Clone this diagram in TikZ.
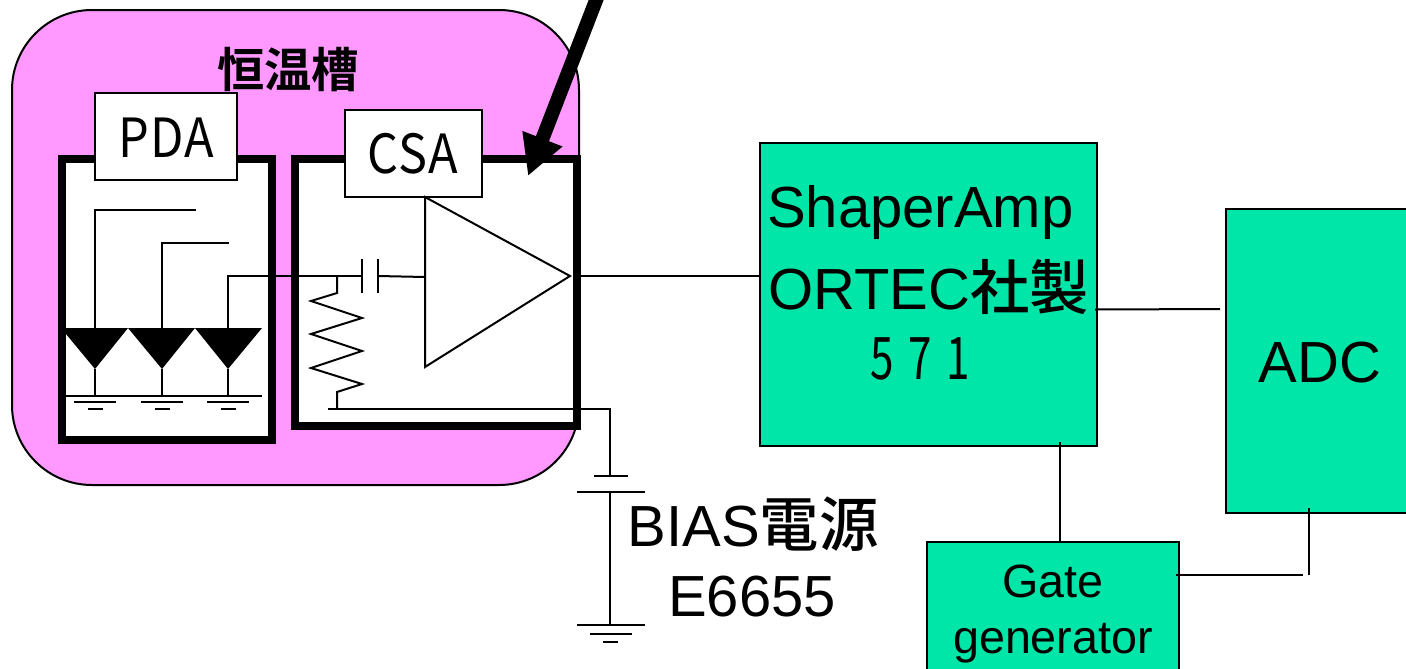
\documentclass[tikz,border=0pt]{standalone}
\usepackage{fontspec}
\setmainfont{Liberation Sans}
\newfontfamily\cjk{Noto Sans CJK JP Medium}
\newfontfamily\cjkb{Noto Sans CJK JP Bold}
\newfontfamily\nar[FakeStretch=0.9,LetterSpace=2]{Noto Sans CJK JP}
\newfontfamily\narnum[FakeStretch=0.72]{Noto Sans CJK JP}
\usetikzlibrary{arrows.meta}
\definecolor{modgreen}{RGB}{0,230,168}
\definecolor{bath}{RGB}{255,153,255}
\tikzset{
  wire/.style={draw=black,line width=1.5pt},
  thick box/.style={draw=black,line width=6pt,fill=white},
  label box/.style={draw=black,line width=1.5pt,fill=white},
  module/.style={draw=black,line width=1.8pt,fill=modgreen},
  big/.style={font=\fontsize{43.5}{50}\selectfont,inner sep=0pt,text=black,anchor=base},
  small/.style={font=\fontsize{35}{40}\selectfont,inner sep=0pt,anchor=base},
  narrow/.style={font=\nar\fontsize{40.5}{44}\selectfont,inner sep=0pt,anchor=base},
}
\newcommand{\kj}[1]{{\cjk\fontsize{44.5}{50}\selectfont #1}}
\begin{document}
\begin{tikzpicture}[x=0.75pt,y=-0.75pt]
\useasboundingbox (0,0) rectangle (1406,668);
\clip (0,0) rectangle (1406,668);
% thermostat
\draw[fill=bath,line width=1.5pt,rounded corners=60pt] (12,10) rectangle (579,485);
\node[inner sep=0pt,font=\cjkb\fontsize{35.5}{40}\selectfont] (bath) at (288,70) {恒温槽};
% boxes
\draw[thick box] (62,159) rectangle (272,440);
\draw[thick box] (295,159) rectangle (577,425.5);
\draw[label box] (95,93) rectangle (237,180);
\node[narrow] (pda) at (166,157) {PDA};
\draw[label box] (345,110) rectangle (482,197);
\node[narrow] (csa) at (413,173) {CSA};
% diodes
\fill (66,328) -- (128,328) -- (95,369) -- (66,334) -- cycle;
\fill (128,328) -- (195,328) -- (162,369) -- cycle;
\fill (195,328) -- (262,328) -- (228,369) -- cycle;
\draw[wire] (95,328) -- (95,210) -- (196,210);
\draw[wire] (162,328) -- (162,243) -- (229,243);
\draw[wire] (228,328) -- (228,276) -- (362,276);
\draw[wire] (95,369) -- (95,396);
\draw[wire] (162,369) -- (162,396);
\draw[wire] (228,369) -- (228,396);
\draw[wire] (66,396) -- (262,396);
\foreach \c in {95,162,228}{
  \draw[wire] (\c-21,402) -- (\c+21,402);
  \draw[wire] (\c-7.5,409) -- (\c+7.5,409);
}
% capacitor
\draw[wire] (362,259) -- (362,293);
\draw[wire] (378,259) -- (378,293);
\draw[wire] (378,276) -- (425,277);
% resistor
\draw[wire] (337,276) -- (337,293) -- (311,301) -- (362,318) -- (311,334) -- (362,351) -- (311,368) -- (362,384) -- (337,392) -- (337,409);
% amp
\draw[wire,fill=white] (425,197) -- (570,276) -- (425,367) -- cycle;
% bias
\draw[wire] (328,409) -- (610,409) -- (610,476);
\draw[wire] (594,476) -- (628,476);
\draw[wire] (577,492) -- (645,492);
\draw[wire] (610,492) -- (610,625);
\draw[wire] (577,625) -- (645,625);
\draw[wire] (590,634) -- (632,634);
\draw[wire] (603,642) -- (618,642);
\node[big] (bias) at (753,546) {BIAS\kj{電源}};
\node[big] (e) at (752,616) {E6655};
% modules
\draw[module] (760,143) rectangle (1097,446);
\draw[module] (1226,209) rectangle (1420,513);
\draw[module] (927,542) rectangle (1179,690);
\node[big,anchor=base west] (sa) at (767,227) {ShaperAmp};
\node[big,anchor=base west] (or) at (768,309) {ORTEC\kj{社製}};
\node[inner sep=0pt,anchor=base,font=\narnum\fontsize{44}{50}\selectfont] (n) at (920,379) {5\hspace{11pt}7\hspace{11pt}1};
\node[big] (adc) at (1320,382) {ADC};
\node[small] (g1) at (1053,597) {Gate};
\node[small] (g2) at (1053,653) {generator};
% connectors
\draw[wire] (581,276) -- (760,276);
\draw[wire] (1095,309.5) -- (1220,309);
\draw[wire] (1060,442) -- (1060,542);
\draw[wire] (1309,508) -- (1309,575);
\draw[wire] (1176,575) -- (1303,575);
% arrow
\draw[line width=10.5pt,-{Triangle[length=30pt,width=30pt]}] (600,-10) -- (528,176);
\end{tikzpicture}
\end{document}
